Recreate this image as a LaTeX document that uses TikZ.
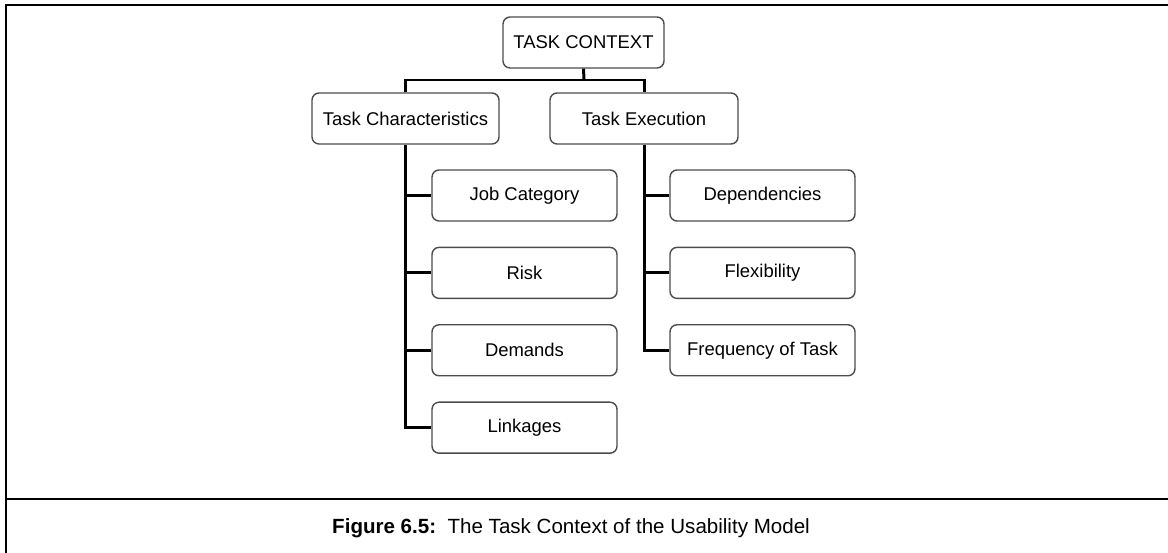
\documentclass[tikz,border=0pt]{standalone}
\usepackage{fontspec}
\setmainfont{Liberation Sans}
\usetikzlibrary{positioning}

\tikzset{
  box/.style={draw=black!70, line width=0.8pt, rounded corners=0.14cm, fill=white,
    minimum height=1.02cm, inner sep=1pt, font=\fontsize{10.5}{12}\selectfont},
  leaf/.style={box, minimum width=3.7cm},
  conn/.style={black, line width=1.7pt},
  frame/.style={black, line width=1.2pt}
}

\begin{document}
\begin{tikzpicture}[x=0.02cm, y=-0.02cm]
\useasboundingbox (0,0) rectangle (1168,553);
\draw [frame] (1168,5) -- (6,5) -- (6,553);
\draw [frame] (6,499) -- (1168,499);

\node [box, minimum width=3.22cm] (ctx) at (583.5,42.5) {TASK CONTEXT};
\node [box, minimum width=3.74cm] (chars) at (405.5,118.5) {Task Characteristics};
\node [box, minimum width=3.76cm] (exec) at (644,118.5) {Task Execution};

\node [leaf] (job) at (524.5,195.5) {Job Category};
\node [leaf, below=0.5cm of job] (risk) {Risk};
\node [leaf, below=0.5cm of risk] (dem) {Demands};
\node [leaf, below=0.5cm of dem] (link) {Linkages};

\node [leaf] (dep) at (762.5,195.5) {Dependencies};
\node [leaf, below=0.5cm of dep] (flex) {Flexibility};
\node [leaf, below=0.5cm of flex] (freq) {Frequency of Task};

\coordinate (split) at (584,80);
\draw [conn] (ctx.south) -- (split);
\draw [conn] (chars.north) |- (split) -| (exec.north);

\draw [conn] (chars.south) |- (link.west);
\draw [conn] (chars.south |- job.west) -- (job.west);
\draw [conn] (chars.south |- risk.west) -- (risk.west);
\draw [conn] (chars.south |- dem.west) -- (dem.west);

\draw [conn] (exec.south) |- (freq.west);
\draw [conn] (exec.south |- dep.west) -- (dep.west);
\draw [conn] (exec.south |- flex.west) -- (flex.west);

\node [font=\fontsize{11.7}{14}\selectfont] (cap) at (571,528)
  {\textbf{Figure 6.5:}\ \ The Task Context of the Usability Model};
\end{tikzpicture}
\end{document}
